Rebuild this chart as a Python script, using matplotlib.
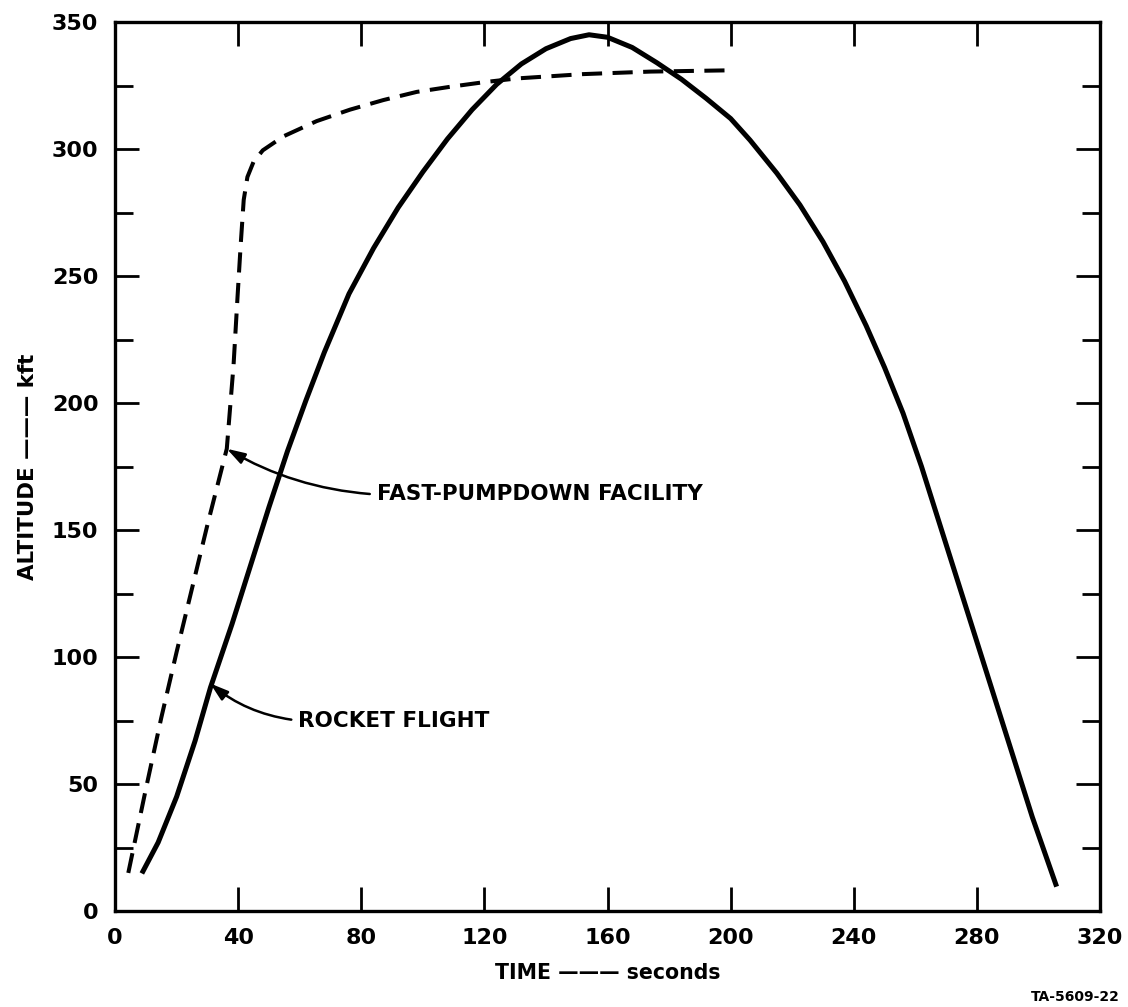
import matplotlib
matplotlib.use('Agg')
import matplotlib.pyplot as plt
from matplotlib.ticker import MultipleLocator

# values (time in s, altitude in kft)
rocket_t = [8.7, 14, 20, 26, 31, 38, 44, 50, 56, 62, 68, 76, 84, 92, 100, 108, 116, 124,
            132, 140, 148, 154, 160, 168, 176, 184, 192, 200, 206.3, 215, 222.5, 230, 237,
            244, 250, 256, 262, 268, 274, 280, 286, 292, 298, 305.9]
rocket_h = [14.8, 27, 45, 67, 88, 113, 136, 159, 181, 201, 220, 243, 261, 277, 291, 304,
            315.5, 325.5, 333.5, 339.5, 343.5, 345, 344, 340, 334, 327.5, 320, 312, 303.5,
            290.5, 278, 263.5, 248, 230.5, 214, 196, 175, 152, 129, 106, 83, 60, 37, 9.6]

pump_t = [4.3, 10, 15, 20, 25, 30, 36.3, 38.5, 39.8, 40.8, 41.8, 43, 45, 48, 54.7,
          65.5, 76.3, 87.2, 98, 108.8, 119.7, 130.5, 152, 174, 200]
pump_h = [15, 48, 76, 102, 127, 152, 182, 215, 242, 262, 280, 289, 295, 299.5, 305,
          311, 315.5, 319.3, 322.5, 324.5, 326.3, 327.8, 329.5, 330.5, 331]

x_ticks = [0, 40, 80, 120, 160, 200, 240, 280, 320]
y_ticks = [0, 50, 100, 150, 200, 250, 300, 350]

plt.rcParams['font.family'] = ['DejaVu Sans']
plt.rcParams['font.weight'] = 'bold'

fig = plt.figure(figsize=(11.28, 10.07), dpi=100)
ax = fig.add_axes([0.102, 0.0953, 0.8732, 0.8828])

ax.plot(rocket_t, rocket_h, color='black', lw=3.6, solid_capstyle='butt', solid_joinstyle='round')
ax.plot(pump_t, pump_h, color='black', lw=2.9, linestyle=(0, (5, 2.6)), dash_capstyle='butt')

ax.set_xlim(0, 320)
ax.set_ylim(0, 350)
ax.set_xticks(x_ticks)
ax.set_yticks(y_ticks)
ax.yaxis.set_minor_locator(MultipleLocator(25))
ax.tick_params(which='both', direction='in', top=True, right=True, width=2)
ax.tick_params(which='major', length=17, labelsize=16, pad=12)
ax.tick_params(which='minor', length=13)
for lab in ax.get_xticklabels() + ax.get_yticklabels():
    lab.set_fontweight('bold')
for s in ax.spines.values():
    s.set_linewidth(2.4)

ax.set_xlabel('TIME \u2014\u2014\u2014 seconds', fontsize=14.8, fontweight='bold', labelpad=11)
ax.set_ylabel('ALTITUDE \u2014\u2014\u2014 kft', fontsize=15.4, fontweight='bold', labelpad=10)

arrow = dict(arrowstyle='-|>,head_length=0.7,head_width=0.22', color='black', lw=1.8,
             shrinkA=3, shrinkB=0, relpos=(0, 0.5))
ax.annotate('FAST-PUMPDOWN FACILITY', xy=(36.3, 182), xytext=(85, 164),
            fontsize=15.5, fontweight='bold', va='center', ha='left',
            arrowprops=dict(arrow, connectionstyle='arc3,rad=-0.12'))
ax.annotate('ROCKET FLIGHT', xy=(30.9, 89.6), xytext=(59.5, 75),
            fontsize=15.5, fontweight='bold', va='center', ha='left',
            arrowprops=dict(arrow, connectionstyle='arc3,rad=-0.15'))

fig.text(0.993, 0.003, 'TA-5609-22', fontsize=10, fontweight='bold', ha='right', va='bottom')

fig.savefig('out.png', dpi=100)
